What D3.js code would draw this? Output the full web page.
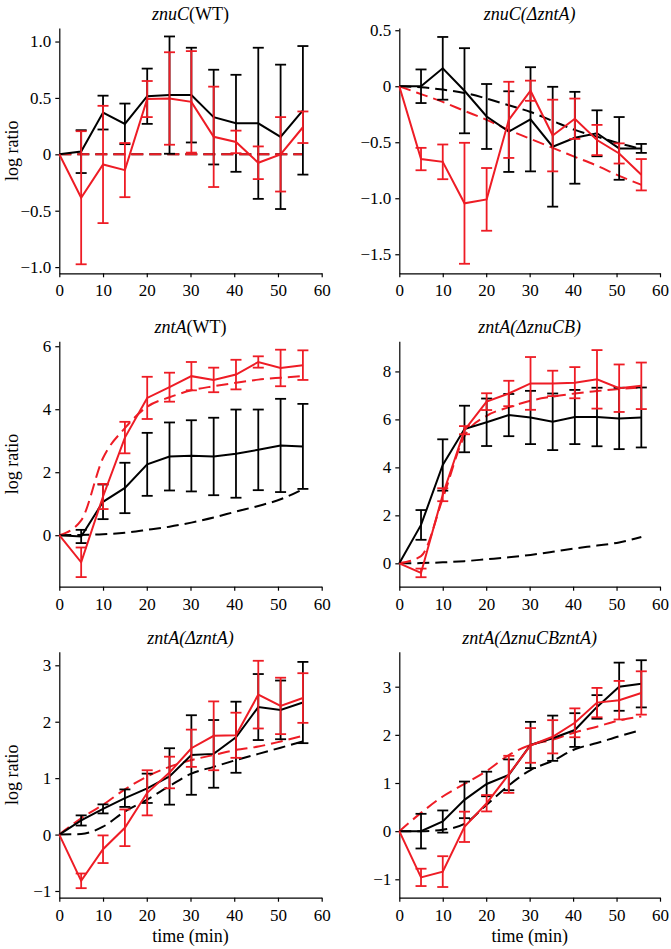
<!DOCTYPE html>
<html><head><meta charset="utf-8">
<script src="https://cdn.jsdelivr.net/npm/d3@7"></script>
<style>body{margin:0;background:#fff}svg{display:block}svg text{font-family:"Liberation Serif","Times New Roman",Times,serif;}</style>
</head><body>
<svg id="chart" width="671" height="949"></svg>
<script>
// ---- data ----
const times = [0, 5, 10, 15, 20.1, 25.2, 30.2, 35.3, 40.4, 45.5, 50.6, 55.7];

// panel 1: znuC(WT)
const p1BlackMean = [0, 0.024, 0.37, 0.27, 0.515, 0.525, 0.525, 0.33, 0.275, 0.275, 0.155, 0.39];
const p1BlackErr  = [0, 0.19, 0.15, 0.18, 0.245, 0.52, 0.42, 0.42, 0.43, 0.67, 0.64, 0.57];
const p1RedMean   = [0, -0.385, -0.09, -0.14, 0.49, 0.495, 0.465, 0.155, 0.11, -0.075, 0.0, 0.24];
const p1RedErr    = [0, 0.59, 0.52, 0.24, 0.16, 0.41, 0.45, 0.445, 0.10, 0.145, 0.33, 0.14];
const p1BlackModel = [0, 0, 0, 0, 0, 0, 0, 0, 0, 0, 0, 0];
const p1RedModel   = [0, 0, 0, 0, 0, 0, 0, 0, 0, 0, 0, 0];

// panel 2: znuC(ΔzntA)
const p2BlackMean = [0, 0.0, 0.16, -0.04, -0.27, -0.405, -0.295, -0.54, -0.46, -0.42, -0.555, -0.555];
const p2BlackErr  = [0, 0.15, 0.28, 0.38, 0.29, 0.36, 0.465, 0.535, 0.41, 0.205, 0.28, 0.04];
const p2RedMean   = [0, -0.65, -0.675, -1.045, -1.01, -0.30, -0.04, -0.44, -0.29, -0.48, -0.60, -0.79];
const p2RedErr    = [0, 0.10, 0.155, 0.54, 0.28, 0.34, 0.09, 0.32, 0.18, 0.135, 0.09, 0.14];
const p2BlackModel = [0, -0.01, -0.03, -0.06, -0.11, -0.17, -0.23, -0.31, -0.39, -0.45, -0.51, -0.56];
const p2RedModel   = [0, -0.07, -0.14, -0.22, -0.30, -0.39, -0.47, -0.55, -0.63, -0.71, -0.80, -0.88];

// panel 3: zntA(WT)
const p3BlackMean = [0, -0.04, 1.06, 1.5, 2.25, 2.5, 2.52, 2.5, 2.59, 2.71, 2.85, 2.82];
const p3BlackErr  = [0, 0.21, 0.55, 0.8, 1.0, 1.08, 1.13, 1.23, 1.4, 1.28, 1.48, 1.35];
const p3RedMean   = [0, -0.86, 1.23, 3.1, 4.36, 4.7, 5.05, 4.93, 5.1, 5.5, 5.31, 5.4];
const p3RedErr    = [0, 0.47, 0.4, 0.5, 0.67, 0.46, 0.45, 0.39, 0.47, 0.18, 0.58, 0.47];
const p3BlackModel = [0, 0.01, 0.03, 0.08, 0.17, 0.27, 0.40, 0.56, 0.75, 0.93, 1.14, 1.46];
const p3RedModel   = [0, 0.47, 2.45, 3.4, 4.08, 4.38, 4.6, 4.73, 4.84, 4.94, 5.0, 5.05];

// panel 4: zntA(ΔznuCB)
const p4BlackMean = [0, 1.6, 4.1, 5.6, 5.88, 6.18, 6.08, 5.9, 6.1, 6.1, 6.04, 6.08];
const p4BlackErr  = [0, 0.62, 1.07, 0.97, 0.99, 0.88, 1.11, 1.18, 1.13, 1.22, 1.28, 1.25];
const p4RedMean   = [0, -0.4, 2.86, 5.55, 6.74, 7.08, 7.5, 7.5, 7.53, 7.67, 7.3, 7.4];
const p4RedErr    = [0, 0.18, 0.27, 0.17, 0.35, 0.53, 1.1, 0.53, 0.65, 1.22, 0.99, 0.97];
const p4BlackModel = [0, 0.01, 0.04, 0.09, 0.17, 0.25, 0.35, 0.48, 0.62, 0.74, 0.87, 1.1];
const p4RedModel   = [0, 0.3, 2.7, 5.3, 6.15, 6.5, 6.78, 6.95, 7.08, 7.18, 7.27, 7.33];

// panel 5: zntA(ΔzntA)
const p5BlackMean = [0, 0.25, 0.455, 0.645, 0.82, 1.03, 1.41, 1.43, 1.725, 2.26, 2.21, 2.34];
const p5BlackErr  = [0, 0.09, 0.08, 0.155, 0.26, 0.5, 0.705, 0.6, 0.63, 0.585, 0.52, 0.72];
const p5RedMean   = [0, -0.82, -0.26, 0.12, 0.74, 1.1, 1.53, 1.75, 1.76, 2.48, 2.28, 2.42];
const p5RedErr    = [0, 0.13, 0.245, 0.325, 0.4, 0.28, 0.33, 0.61, 0.4, 0.6, 0.5, 0.44];
const p5BlackModel = [0, 0.01, 0.14, 0.41, 0.62, 0.86, 1.08, 1.2, 1.32, 1.43, 1.54, 1.65];
const p5RedModel   = [0, 0.29, 0.53, 0.8, 1.03, 1.2, 1.32, 1.41, 1.5, 1.56, 1.65, 1.75];

// panel 6: zntA(ΔznuCBzntA)
const p6BlackMean = [0, 0.0, 0.2, 0.65, 0.98, 1.17, 1.79, 1.93, 2.1, 2.58, 3.0, 3.06];
const p6BlackErr  = [0, 0.36, 0.23, 0.38, 0.255, 0.32, 0.48, 0.47, 0.35, 0.245, 0.5, 0.49];
const p6RedMean   = [0, -0.96, -0.84, 0.09, 0.58, 1.18, 1.78, 1.96, 2.25, 2.67, 2.72, 2.87];
const p6RedErr    = [0, 0.18, 0.32, 0.315, 0.17, 0.385, 0.36, 0.345, 0.3, 0.305, 0.4, 0.45];
const p6BlackModel = [0, 0.0, 0.03, 0.15, 0.55, 0.95, 1.27, 1.46, 1.7, 1.83, 1.97, 2.1];
const p6RedModel   = [0, 0.38, 0.72, 0.98, 1.25, 1.58, 1.79, 1.9, 2.05, 2.17, 2.3, 2.38];

// tick labels
const xTicks = [0, 10, 20, 30, 40, 50, 60];
const p1YTicks = [-1.0, -0.5, 0, 0.5, 1.0];
const p1YLabels = ["\u22121.0", "\u22120.5", "0", "0.5", "1.0"];
const p2YTicks = [-1.5, -1.0, -0.5, 0, 0.5];
const p2YLabels = ["\u22121.5", "\u22121.0", "\u22120.5", "0", "0.5"];
const p3YTicks = [0, 2, 4, 6];
const p3YLabels = ["0", "2", "4", "6"];
const p4YTicks = [0, 2, 4, 6, 8];
const p4YLabels = ["0", "2", "4", "6", "8"];
const p5YTicks = [-1, 0, 1, 2, 3];
const p5YLabels = ["\u22121", "0", "1", "2", "3"];
const p6YTicks = [-1, 0, 1, 2, 3];
const p6YLabels = ["\u22121", "0", "1", "2", "3"];

// titles: [text, italic?]
const p1Title = [["znuC", true], ["(WT)", false]];
const p2Title = [["znuC(\u0394zntA)", true]];
const p3Title = [["zntA", true], ["(WT)", false]];
const p4Title = [["zntA(\u0394znuCB)", true]];
const p5Title = [["zntA(\u0394zntA)", true]];
const p6Title = [["zntA(\u0394znuCBzntA)", true]];

// ---- layout ----
const RED = "#ee1c25", BLACK = "#000";
const cols = [[59.3, 321.7], [399.3, 660]];
const rows = [[28, 273.3], [341.2, 586.7], [651.7, 897.7]];

const panels = [
  {col:0,row:0,ydom:[-1.055,1.12],yt:p1YTicks,yl:p1YLabels,title:p1Title,bm:p1BlackMean,be:p1BlackErr,rm:p1RedMean,re:p1RedErr,bmod:p1BlackModel,rmod:p1RedModel,ylab:true,xlab:false},
  {col:1,row:0,ydom:[-1.67,0.52],yt:p2YTicks,yl:p2YLabels,title:p2Title,bm:p2BlackMean,be:p2BlackErr,rm:p2RedMean,re:p2RedErr,bmod:p2BlackModel,rmod:p2RedModel,ylab:false,xlab:false},
  {col:0,row:1,ydom:[-1.635,6.16],yt:p3YTicks,yl:p3YLabels,title:p3Title,bm:p3BlackMean,be:p3BlackErr,rm:p3RedMean,re:p3RedErr,bmod:p3BlackModel,rmod:p3RedModel,ylab:true,xlab:false},
  {col:1,row:1,ydom:[-0.975,9.26],yt:p4YTicks,yl:p4YLabels,title:p4Title,bm:p4BlackMean,be:p4BlackErr,rm:p4RedMean,re:p4RedErr,bmod:p4BlackModel,rmod:p4RedModel,ylab:false,xlab:false},
  {col:0,row:2,ydom:[-1.119,3.241],yt:p5YTicks,yl:p5YLabels,title:p5Title,bm:p5BlackMean,be:p5BlackErr,rm:p5RedMean,re:p5RedErr,bmod:p5BlackModel,rmod:p5RedModel,ylab:true,xlab:true},
  {col:1,row:2,ydom:[-1.382,3.727],yt:p6YTicks,yl:p6YLabels,title:p6Title,bm:p6BlackMean,be:p6BlackErr,rm:p6RedMean,re:p6RedErr,bmod:p6BlackModel,rmod:p6RedModel,ylab:false,xlab:true}
];

const svg = d3.select("#chart");
const CAP = 5.5;

panels.forEach(p => {
  const [x0, x1] = cols[p.col];
  const [top, bot] = rows[p.row];
  const x = d3.scaleLinear().domain([0, 60]).range([x0, x1]);
  const y = d3.scaleLinear().domain(p.ydom).range([bot, top]);
  const g = svg.append("g");

  // axes
  const xa = g.append("g").attr("transform", `translate(0,${bot})`)
    .call(d3.axisBottom(x).tickValues(xTicks).tickFormat(d3.format("d")).tickSize(4).tickSizeOuter(0).tickPadding(7));
  const ya = g.append("g").attr("transform", `translate(${x0},0)`)
    .call(d3.axisLeft(y).tickValues(p.yt).tickFormat((d, i) => p.yl[i]).tickSize(4).tickSizeOuter(0).tickPadding(4));
  [xa, ya].forEach(a => {
    a.attr("font-family", null).attr("font-size", null);
    a.selectAll("path,line").attr("stroke", "#000").attr("stroke-width", 1.2);
    a.selectAll("text").style("font-size", "17px").attr("fill", "#000");
  });

  // title
  const t = g.append("text").attr("x", (x0 + x1) / 2).attr("y", top - 8)
    .attr("text-anchor", "middle").style("font-size", "18px");
  p.title.forEach(([s, it]) => t.append("tspan").style("font-style", it ? "italic" : "normal").text(s));

  if (p.ylab) {
    g.append("text").attr("transform", `translate(12,${(top + bot) / 2}) rotate(-90)`)
      .attr("text-anchor", "middle").attr("dy", "0.35em").style("font-size", "18px").text("log ratio");
  }
  if (p.xlab) {
    g.append("text").attr("x", (x0 + x1) / 2).attr("y", 942)
      .attr("text-anchor", "middle").style("font-size", "18px").text("time (min)");
  }

  const lineSmooth = d3.line().x((d, i) => x(times[i])).y(d => y(d)).curve(d3.curveMonotoneX);
  const lineStraight = d3.line().x((d, i) => x(times[i])).y(d => y(d));

  // model (dashed) curves
  g.append("path").attr("d", lineSmooth(p.bmod)).attr("fill", "none").attr("stroke", BLACK)
    .attr("stroke-width", 2).attr("stroke-dasharray", "12,6");
  g.append("path").attr("d", lineSmooth(p.rmod)).attr("fill", "none").attr("stroke", RED)
    .attr("stroke-width", 2).attr("stroke-dasharray", "12,6");

  function series(mean, err, color) {
    const eg = g.append("g").attr("stroke", color).attr("stroke-width", 1.8);
    mean.forEach((m, i) => {
      const e = err[i];
      if (!e) return;
      const cx = x(times[i]);
      eg.append("line").attr("x1", cx).attr("x2", cx).attr("y1", y(m - e)).attr("y2", y(m + e));
      eg.append("line").attr("x1", cx - CAP).attr("x2", cx + CAP).attr("y1", y(m - e)).attr("y2", y(m - e));
      eg.append("line").attr("x1", cx - CAP).attr("x2", cx + CAP).attr("y1", y(m + e)).attr("y2", y(m + e));
    });
    g.append("path").attr("d", lineStraight(mean)).attr("fill", "none").attr("stroke", color).attr("stroke-width", 2);
  }
  series(p.bm, p.be, BLACK);
  series(p.rm, p.re, RED);
});
</script>
</body></html>
